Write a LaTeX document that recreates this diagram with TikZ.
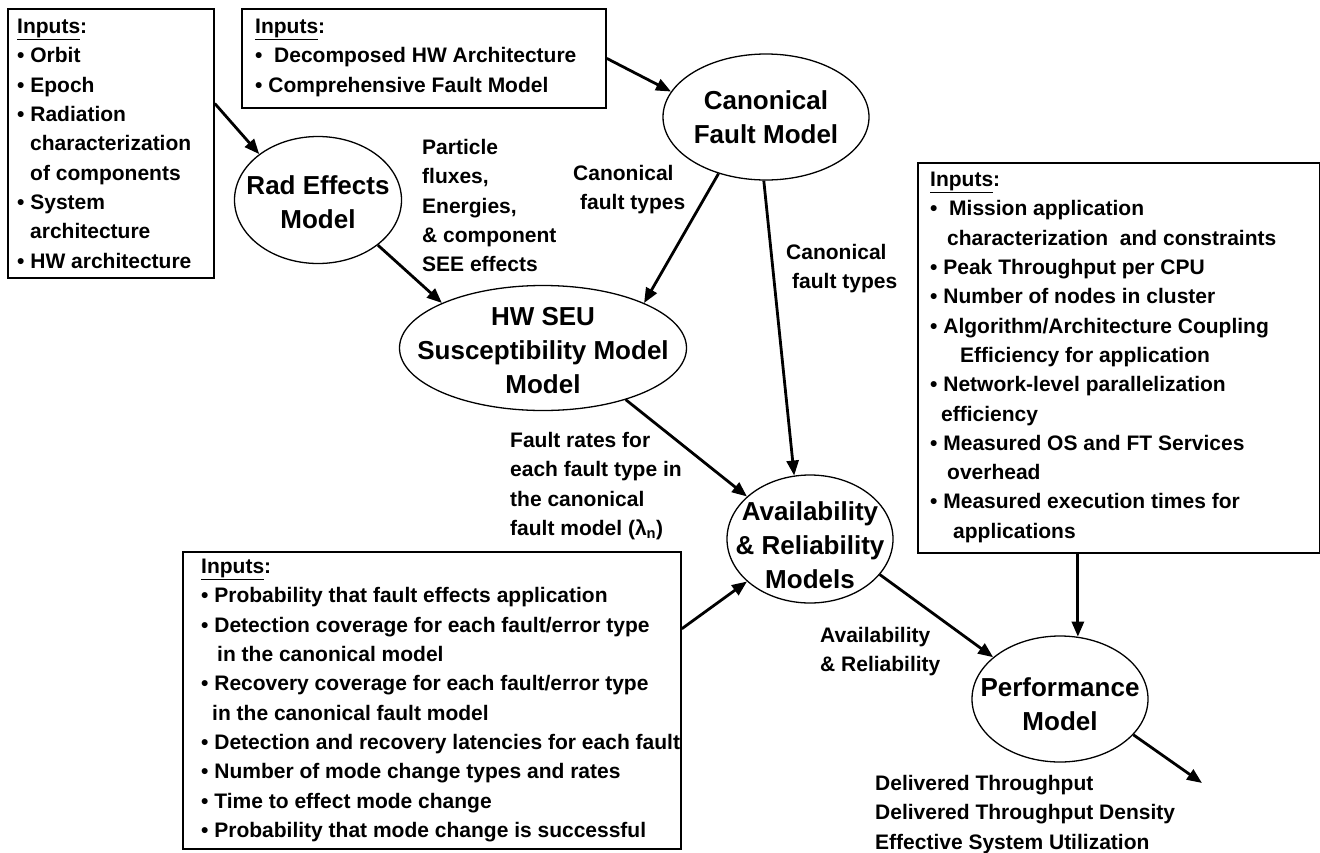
\documentclass[tikz,border=0pt]{standalone}
\usepackage{fontspec}
\setmainfont{Liberation Sans}
\usepackage{tikz}
\usetikzlibrary{arrows.meta}
\usetikzlibrary{shapes.geometric}
\newcommand{\smalltxt}{\fontsize{21}{29.3}\selectfont\bfseries}
\newcommand{\bigtxt}{\fontsize{26}{34}\selectfont\bfseries}
\tikzset{inbox/.style={rectangle, draw, line width=1.8pt, inner sep=0pt, anchor=north west}}
\tikzset{txt/.style={inner sep=0pt, align=left, anchor=north west, font=\smalltxt}}
\tikzset{model/.style={ellipse, draw, line width=1.3pt, inner sep=0pt}}
\tikzset{mtxt/.style={inner sep=0pt, align=center, font=\bigtxt}}
\tikzset{arr/.style={-{Triangle[length=15pt,width=12pt]}, line width=2.8pt}}

\begin{document}
\begin{tikzpicture}[x=1pt, y=-1pt]

    \useasboundingbox (0,0) rectangle (1320,852);

    % input boxes
    \node[inbox, minimum width=206pt, minimum height=269pt] (inrad) at (7,8) {};
    \node[txt] (inrad-t) at ([xshift=10pt, yshift=-11pt]inrad.north west) {
      \underline{Inputs}:\\
      \textbullet\ Orbit\\
      \textbullet\ Epoch\\
      \textbullet\ Radiation\\
      \hspace*{13pt}characterization\\
      \hspace*{13pt}of components\\
      \textbullet\ System\\
      \hspace*{13pt}architecture\\
      \textbullet\ HW architecture};

    \node[inbox, minimum width=364pt, minimum height=99pt] (inhw) at (241,8) {};
    \node[txt] (inhw-t) at ([xshift=14pt, yshift=-11pt]inhw.north west) {
      \underline{Inputs}:\\
      \textbullet\ \ Decomposed HW Architecture\\
      \textbullet\ Comprehensive Fault Model};

    \node[inbox, minimum width=402pt, minimum height=390pt] (inperf) at (917,162) {};
    \node[txt] (inperf-t) at ([xshift=13pt, yshift=-10pt]inperf.north west) {
      \underline{Inputs}:\\
      \textbullet\ \ Mission application\\
      \hspace*{17pt}characterization\ \ and constraints\\
      \textbullet\ Peak Throughput per CPU\\
      \textbullet\ Number of nodes in cluster\\
      \textbullet\ Algorithm/Architecture Coupling\\
      \hspace*{30pt}Efficiency for application\\
      \textbullet\ Network-level parallelization\\
      \hspace*{11pt}efficiency\\
      \textbullet\ Measured OS and FT Services\\
      \hspace*{17pt}overhead\\
      \textbullet\ Measured execution times for\\
      \hspace*{23pt}applications};

    \node[inbox, minimum width=498pt, minimum height=297pt] (inav) at (182,551) {};
    \node[txt] (inav-t) at ([xshift=19pt, yshift=-8pt]inav.north west) {
      \underline{Inputs}:\\
      \textbullet\ Probability that fault effects application\\
      \textbullet\ Detection coverage for each fault/error type\\
      \hspace*{16pt}in the canonical model\\
      \textbullet\ Recovery coverage for each fault/error type\\
      \hspace*{11pt}in the canonical fault model\\
      \textbullet\ Detection and recovery latencies for each fault\\
      \textbullet\ Number of mode change types and rates\\
      \textbullet\ Time to effect mode change\\
      \textbullet\ Probability that mode change is successful};

    % models
    \node[model, minimum width=167pt, minimum height=127pt,
      label={[mtxt, yshift=-2pt]center:{Rad Effects\\Model}}] (rad) at (318,200) {};
    \node[model, minimum width=206pt, minimum height=126pt,
      label={[mtxt]center:{Canonical\\Fault Model}}] (canon) at (766,117) {};
    \node[model, minimum width=287pt, minimum height=125pt,
      label={[mtxt, yshift=-3pt]center:{HW SEU\\Susceptibility Model\\Model}}] (seu) at (543,348) {};
    \node[model, minimum width=166pt, minimum height=128pt,
      label={[mtxt, yshift=-6pt]center:{Availability\\\& Reliability\\Models}}] (avail) at (810,539) {};
    \node[model, minimum width=176pt, minimum height=126pt,
      label={[mtxt, yshift=-5pt]center:{Performance\\Model}}] (perf) at (1060,699) {};

    % flow labels
    \node[txt] (flux) at (422,139) {Particle\\fluxes,\\Energies,\\\& component\\SEE effects};
    \node[txt] (types1) at (573,165) {Canonical\\\hspace*{7pt}fault types};
    \node[txt] (types2) at (786,244) {Canonical\\\hspace*{6pt}fault types};
    \node[txt] (rates) at (510,432) {Fault rates for\\each fault type in\\the canonical\\fault model (λ\textsubscript{n})};
    \node[txt] (avrel) at (820,627) {Availability\\\& Reliability};
    \node[txt] (results) at (875,775) {Delivered Throughput\\Delivered Throughput Density\\Effective System Utilization};

    \coordinate (out) at (1202,783);

    % arrows
    \draw[arr] (inrad.21) -- (rad.142);
    \draw[arr] (inhw.east) -- (canon.165);
    \draw[arr] (rad.-37) -- (seu.156);
    \draw[arr] (canon.230) -- (seu.24);
    \draw[arr] (canon.268) -- (avail.104);
    \draw[arr] (seu.-32) -- (avail.146);
    \draw[arr] (inav.16) -- (avail.214);
    \draw[arr] (avail.-27) -- (perf.148);
    \draw[arr] (inperf.south -| perf.74) -- (perf.74);
    \draw[arr] (perf.-26) -- (out);

\end{tikzpicture}
\end{document}
